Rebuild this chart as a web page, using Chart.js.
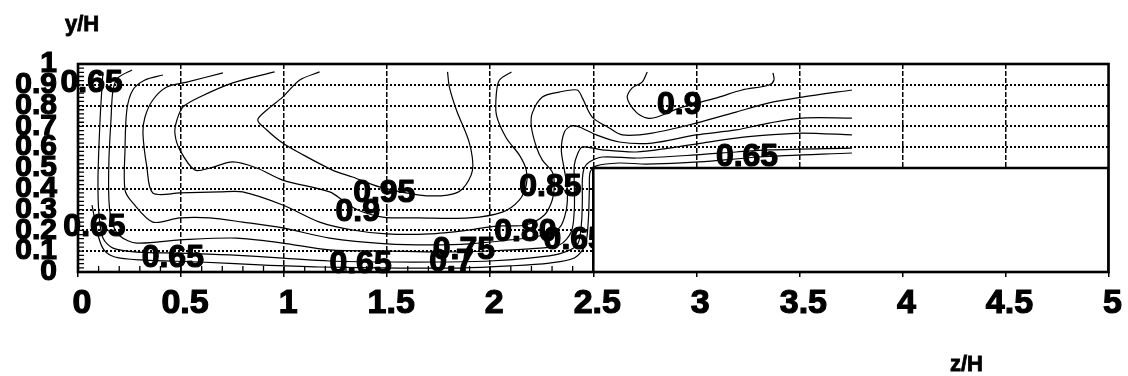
<!DOCTYPE html>
<html><head><meta charset="utf-8">
<script src="https://cdn.jsdelivr.net/npm/chart.js@4.4.1/dist/chart.umd.min.js"></script>
<style>html,body{margin:0;padding:0;background:#fff}#wrap{width:1128px;height:376px}canvas{display:block}</style>
</head><body><div id="wrap"><canvas id="c" width="1128" height="376"></canvas></div>
<script>
// ---------- data ----------
const xTickValues = [0,0.5,1,1.5,2,2.5,3,3.5,4,4.5,5];
const xTickLabels = ['0','0.5','1','1.5','2','2.5','3','3.5','4','4.5','5'];
const yTickValues = [0,0.1,0.2,0.3,0.4,0.5,0.6,0.7,0.8,0.9,1];
const yTickLabels = ['0','0.1','0.2','0.3','0.4','0.5','0.6','0.7','0.8','0.9','1'];

// contour lines, [z/H, y/H]
const contour095 = [[1.172,0.962],[1.076,0.923],[0.993,0.841],[0.916,0.779],[0.872,0.731],[0.916,0.683],[0.993,0.620],[1.076,0.572],[1.235,0.490],[1.332,0.457],[1.463,0.409],[1.657,0.370],[1.793,0.370],[1.865,0.399],[1.914,0.490],[1.899,0.620],[1.836,0.779],[1.802,0.889],[1.793,0.962]];
const contour090 = [[0.954,0.962],[0.751,0.909],[0.591,0.841],[0.509,0.793],[0.480,0.731],[0.470,0.668],[0.494,0.587],[0.567,0.490],[0.640,0.500],[0.751,0.529],[0.867,0.500],[0.993,0.442],[1.221,0.385],[1.294,0.337],[1.357,0.298],[1.478,0.264],[1.657,0.260],[1.899,0.260],[2.059,0.288],[2.141,0.346],[2.175,0.418],[2.175,0.490],[2.141,0.563],[2.078,0.644],[2.030,0.755],[2.030,0.861],[2.045,0.923],[2.103,0.962]];
const contour085 = [[0.703,0.957],[0.528,0.913],[0.431,0.889],[0.363,0.827],[0.325,0.745],[0.315,0.668],[0.334,0.505],[0.363,0.380],[0.494,0.380],[0.688,0.385],[0.799,0.385],[0.993,0.322],[1.172,0.240],[1.332,0.202],[1.497,0.183],[1.705,0.183],[1.899,0.202],[2.030,0.221],[2.171,0.226],[2.263,0.274],[2.301,0.346],[2.311,0.418],[2.301,0.481],[2.253,0.538],[2.224,0.601],[2.200,0.697],[2.204,0.764],[2.253,0.841],[2.335,0.865],[2.422,0.875],[2.447,0.837],[2.495,0.745],[2.578,0.692],[2.641,0.659],[2.786,0.668],[2.999,0.716],[3.193,0.769],[3.353,0.813],[3.513,0.841],[3.755,0.875]];
const contour080 = [[0.412,0.947],[0.325,0.923],[0.266,0.875],[0.237,0.779],[0.228,0.587],[0.228,0.394],[0.266,0.332],[0.363,0.240],[0.494,0.260],[0.640,0.260],[0.799,0.240],[0.993,0.212],[1.221,0.163],[1.497,0.135],[1.720,0.130],[1.899,0.135],[2.093,0.154],[2.238,0.173],[2.335,0.212],[2.369,0.298],[2.374,0.394],[2.360,0.490],[2.345,0.587],[2.360,0.673],[2.393,0.702],[2.432,0.697],[2.515,0.659],[2.626,0.625],[2.786,0.620],[2.999,0.659],[3.193,0.683],[3.353,0.716],[3.513,0.740],[3.755,0.740]];
const contour075 = [[0.262,0.971],[0.194,0.933],[0.170,0.875],[0.160,0.731],[0.150,0.538],[0.150,0.346],[0.165,0.240],[0.203,0.173],[0.286,0.139],[0.494,0.154],[0.770,0.163],[0.993,0.139],[1.221,0.106],[1.497,0.101],[1.754,0.096],[1.996,0.101],[2.190,0.111],[2.335,0.130],[2.393,0.192],[2.408,0.298],[2.408,0.418],[2.408,0.514],[2.422,0.563],[2.447,0.601],[2.544,0.587],[2.708,0.577],[2.868,0.596],[3.028,0.620],[3.193,0.644],[3.353,0.659],[3.513,0.668],[3.755,0.659]];
const contour070 = [[0.121,0.962],[0.107,0.731],[0.097,0.442],[0.102,0.274],[0.121,0.163],[0.170,0.115],[0.286,0.096],[0.494,0.091],[0.736,0.082],[0.993,0.067],[1.221,0.053],[1.512,0.048],[1.754,0.048],[1.996,0.053],[2.190,0.067],[2.335,0.087],[2.422,0.130],[2.442,0.226],[2.447,0.346],[2.447,0.442],[2.456,0.500],[2.481,0.529],[2.544,0.553],[2.708,0.548],[2.999,0.563],[3.193,0.577],[3.353,0.587],[3.755,0.596]];
const contour065 = [[0.068,0.322],[0.097,0.178],[0.126,0.106],[0.179,0.072],[0.300,0.058],[0.591,0.048],[0.882,0.034],[1.172,0.024],[1.560,0.019],[1.851,0.019],[2.093,0.029],[2.287,0.043],[2.408,0.067],[2.461,0.130],[2.476,0.250],[2.481,0.394],[2.485,0.481],[2.515,0.510],[2.626,0.524],[2.757,0.519],[3.014,0.529],[3.304,0.553],[3.755,0.572]];
const contour090b = [[2.762,0.962],[2.737,0.913],[2.689,0.885],[2.665,0.837],[2.708,0.769],[2.762,0.740],[2.810,0.745],[2.917,0.788],[3.023,0.817],[3.110,0.841],[3.222,0.875],[3.353,0.899],[3.377,0.923],[3.372,0.957]];

// contour labels
const labelText = ['0.65','0.65','0.65','0.65','0.95','0.9','0.75','0.7','0.80','0.65','0.85','0.9','0.65'];
const labelZ    = [0.066,0.080,0.460,1.371,1.486,1.357,1.872,1.812,2.171,2.410,2.292,2.917,3.246];
const labelY    = [0.909,0.216,0.067,0.038,0.380,0.288,0.106,0.048,0.192,0.154,0.409,0.803,0.553];

// step block (solid obstacle)
const blockZ = [2.5,2.5,5,5];
const blockY = [0,0.5,0.5,0];

// ---------- chart ----------
const FONT = "'Liberation Sans', Arial, Helvetica, sans-serif";
const contours = [contour095,contour090,contour085,contour080,contour075,contour070,contour065,contour090b];
const toXY = arr => arr.map(p => ({x:p[0], y:p[1]}));

const datasets = contours.map(c => ({
  data: toXY(c), showLine:true, borderColor:'#000', borderWidth:1.2,
  pointRadius:0, pointHoverRadius:0, tension:0.3, fill:false, order:2
}));
datasets.push({
  data: blockZ.map((z,i)=>({x:z, y:blockY[i]})), showLine:true, borderColor:'#000', borderWidth:2.6,
  backgroundColor:'#fff', fill:'origin', pointRadius:0, pointHoverRadius:0, tension:0, order:1
});

const decor = {
  id:'decor',
  beforeDatasetsDraw(chart){
    const {ctx, scales:{x,y}} = chart;
    ctx.save();
    ctx.fillStyle = '#000';
    ctx.strokeStyle = '#000';
    ctx.lineWidth = 1.2;
    ctx.lineJoin = 'round';
    ctx.font = 'bold 32px ' + FONT;
    ctx.textAlign = 'center';
    ctx.textBaseline = 'middle';
    labelText.forEach((t,i)=> {
      const px = x.getPixelForValue(labelZ[i]), py = y.getPixelForValue(labelY[i]);
      ctx.fillText(t, px, py);
      ctx.strokeText(t, px, py);
    });
    ctx.restore();
  },
  afterDraw(chart){
    const {ctx, chartArea:a, scales:{x,y}} = chart;
    ctx.save();
    ctx.strokeStyle = '#000';
    ctx.lineWidth = 1.3;
    ctx.beginPath();
    for (let i=1;i<50;i++){ const py = y.getPixelForValue(i*0.02); ctx.moveTo(a.left, py); ctx.lineTo(a.left+6, py); }
    for (let i=1;i<25;i++){ const px = x.getPixelForValue(i*0.1); ctx.moveTo(px, a.bottom); ctx.lineTo(px, a.bottom-6); }
    ctx.stroke();
    ctx.lineWidth = 2.6;
    ctx.strokeRect(a.left, a.top, a.right-a.left, a.bottom-a.top);
    ctx.fillStyle = '#000';
    ctx.lineWidth = 0.8;
    ctx.font = 'bold 22px ' + FONT;
    ctx.textAlign = 'left';
    ctx.textBaseline = 'alphabetic';
    ctx.fillText('y/H', 65, 31); ctx.strokeText('y/H', 65, 31);
    ctx.fillText('z/H', 950, 371); ctx.strokeText('z/H', 950, 371);
    ctx.restore();
  }
};

const hideEdge = (lo,hi,col) => c => (c.tick && (Math.abs(c.tick.value-lo)<1e-9 || Math.abs(c.tick.value-hi)<1e-9)) ? 'rgba(0,0,0,0)' : col;

new Chart(document.getElementById('c'), {
  type:'scatter',
  data:{datasets},
  plugins:[decor],
  options:{
    responsive:false, animation:false, devicePixelRatio:1, events:[],
    layout:{padding:{top:64, right:18, left:0, bottom:0}},
    plugins:{legend:{display:false}, tooltip:{enabled:false}},
    scales:{
      x:{
        type:'linear', min:0, max:5, position:'bottom',
        afterBuildTicks: s => { s.ticks = xTickValues.map(v=>({value:v})); },
        afterFit: s => { s.height = 104; },
        ticks:{ autoSkip:false, maxRotation:0, color:'#000', padding:10, labelOffset:4,
          textStrokeColor:'#000', textStrokeWidth:1.2,
          callback:(v,i)=> xTickLabels[i],
          font:{family:FONT, size:34, weight:'bold', lineHeight:1} },
        grid:{ color: hideEdge(0,5,'#000'), lineWidth:1.5, drawTicks:true, tickLength:5, tickColor:'#000', tickWidth:1.5 },
        border:{display:false, dash:[5,2]}
      },
      y:{
        type:'linear', min:0, max:1,
        afterBuildTicks: s => { s.ticks = yTickValues.map(v=>({value:v})); },
        afterFit: s => { s.width = 78; },
        ticks:{ autoSkip:false, color:'#000', padding:21,
          textStrokeColor:'#000', textStrokeWidth:1.2,
          callback:(v,i)=> yTickLabels[i],
          font:{family:FONT, size:30, weight:'bold', lineHeight:1} },
        grid:{ color: hideEdge(0,1,'#000'), lineWidth:2, drawTicks:false },
        border:{display:false, dash:[2,2]}
      }
    }
  }
});
</script></body></html>
